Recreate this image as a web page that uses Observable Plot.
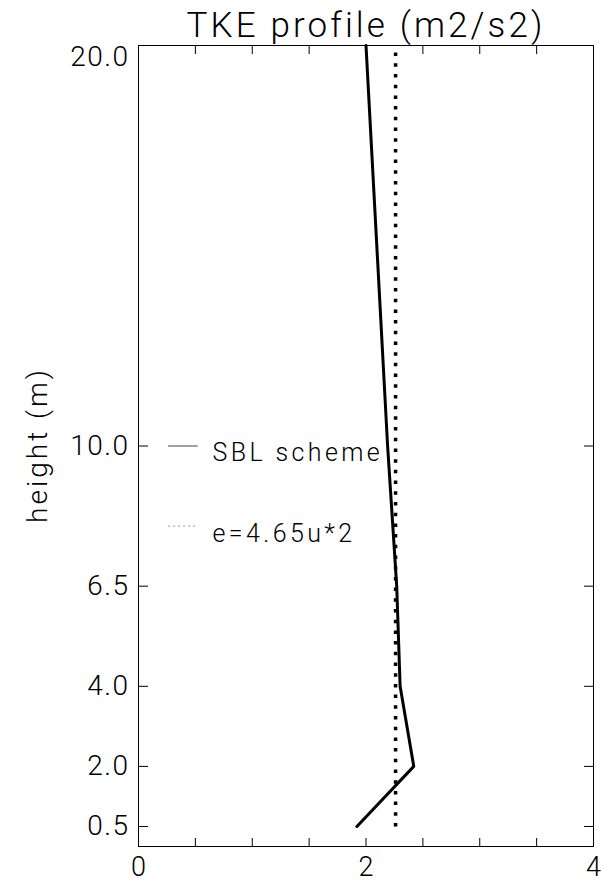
<!DOCTYPE html>
<html>
<head>
<meta charset="utf-8">
<script src="https://cdn.jsdelivr.net/npm/d3@7"></script>
<script src="https://cdn.jsdelivr.net/npm/@observablehq/plot@0.6"></script>
<style>
  html, body { margin: 0; padding: 0; background: #fff; }
  #chart svg { display: block; font-family: Roboto, "Liberation Sans", sans-serif; font-weight: 300; }
  #chart g[aria-description="title"] text { letter-spacing: 3.1px; }
  #chart g[aria-description="legend"] text { letter-spacing: 3.4px; }
  #chart g[aria-description="ylabel"] text { letter-spacing: 3px; }
  #chart g[aria-description="yticklabels"] text { letter-spacing: 1.5px; }
</style>
</head>
<body>
<div id="chart"></div>
<script>
// Data
const heights = [0.5, 2.0, 4.0, 6.5, 10.0, 20.0];          // m
const tkeSBL  = [1.92, 2.42, 2.30, 2.27, 2.19, 2.00];       // m2/s2, SBL scheme
const tkeEq   = [2.26, 2.26, 2.26, 2.26, 2.26, 2.26];       // e = 4.65 u*^2
const xTicksMajor = [0, 2, 4];
const xTicksMinor = [0.5, 1, 1.5, 2, 2.5, 3, 3.5];
const yTicks = [0.5, 2.0, 4.0, 6.5, 10.0, 20.0];
const titleText = "TKE profile (m2/s2)";
const yLabelText = "height (m)";
const legendLabels = ["SBL scheme", "e=4.65u*2"];

const sbl = heights.map((h, i) => ({h, v: tkeSBL[i]}));
const eq = heights.map((h, i) => ({h, v: tkeEq[i]}));
const legendSolid = [{y: 10.0, x1: 0.26, x2: 0.52, label: legendLabels[0]}];
const legendDot = [{y: 8.0, x1: 0.26, x2: 0.52, label: legendLabels[1]}];
const fmt = d3.format(".1f");

const chart = Plot.plot({
  width: 601,
  height: 886,
  marginLeft: 138,
  marginRight: 8,
  marginTop: 45,
  marginBottom: 40,
  style: {background: "#fff", color: "#000"},
  x: {domain: [0, 4], axis: null},
  y: {domain: [0, 20], axis: null},
  marks: [
    Plot.frame({stroke: "#000", strokeWidth: 1}),
    // bottom/top inward ticks
    Plot.axisX({anchor: "bottom", ticks: xTicksMinor, tickSize: -8, tickFormat: () => "", stroke: "#000", label: null}),
    Plot.axisX({anchor: "top", ticks: xTicksMinor, tickSize: -8, tickFormat: () => "", stroke: "#000", label: null}),
    Plot.axisX({anchor: "bottom", ticks: xTicksMajor, tickSize: 0, tickPadding: 10, fontSize: 27, tickFormat: d3.format("d"), label: null}),
    // left/right inward ticks
    Plot.axisY({anchor: "left", ticks: yTicks, tickSize: -10, tickFormat: () => "", stroke: "#000", label: null}),
    Plot.axisY({anchor: "right", ticks: yTicks, tickSize: -10, tickFormat: () => "", stroke: "#000", label: null}),
    Plot.axisY({anchor: "left", ticks: yTicks.filter(d => d < 20), tickSize: 0, tickPadding: 9, fontSize: 28, tickFormat: fmt, label: null, ariaDescription: "yticklabels"}),
    Plot.axisY({anchor: "left", ticks: yTicks.filter(d => d >= 20), tickSize: 0, tickPadding: 9, fontSize: 28, tickFormat: fmt, label: null, dy: 12, ariaDescription: "yticklabels"}),
    // data
    Plot.line(eq, {x: "v", y: "h", stroke: "#000", strokeWidth: 3.5, strokeDasharray: "3.5,7.2", strokeLinecap: "butt"}),
    Plot.line(sbl, {x: "v", y: "h", stroke: "#000", strokeWidth: 3, strokeLinejoin: "miter"}),
    // legend
    Plot.link(legendSolid, {x1: "x1", x2: "x2", y1: "y", y2: "y", stroke: "#444", strokeWidth: 1}),
    Plot.link(legendDot, {x1: "x1", x2: "x2", y1: "y", y2: "y", stroke: "#999", strokeDasharray: "2,3", strokeWidth: 1}),
    Plot.text(legendSolid, {x: 0.65, y: "y", text: "label", textAnchor: "start", dy: 7, fontSize: 25, fill: "#000", ariaDescription: "legend"}),
    Plot.text(legendDot, {x: 0.65, y: "y", text: "label", textAnchor: "start", dy: 8, fontSize: 25, fill: "#000", ariaDescription: "legend"}),
    // title & y label
    Plot.text([titleText], {frameAnchor: "top", textAnchor: "middle", dx: 0, dy: -9, lineAnchor: "bottom", fontSize: 35, fill: "#000", ariaDescription: "title"}),
    Plot.text([yLabelText], {frameAnchor: "left", textAnchor: "middle", lineAnchor: "middle", dx: -100, dy: -1, rotate: -90, fontSize: 28, fill: "#000", ariaDescription: "ylabel"})
  ]
});
document.getElementById("chart").appendChild(chart);
</script>
</body>
</html>
